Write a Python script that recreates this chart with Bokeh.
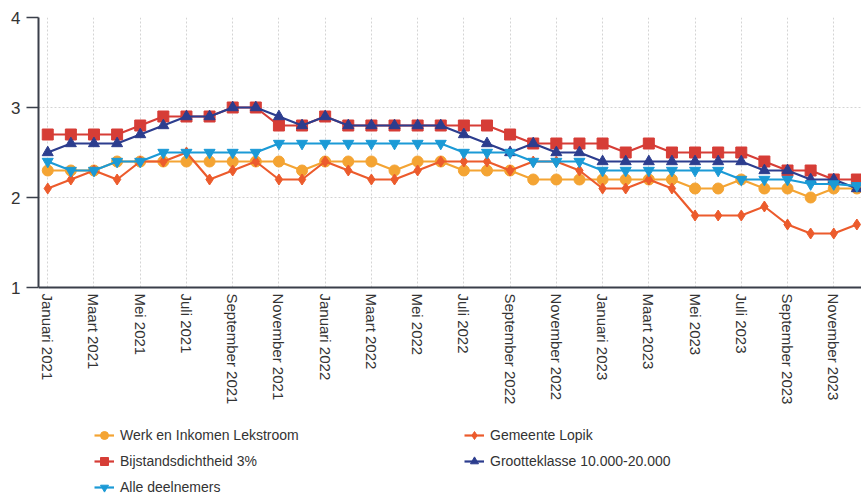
import math
from bokeh.plotting import figure
from bokeh.models import Range1d, FixedTicker, Legend, LegendItem, BoxAnnotation
from bokeh.embed import file_html
from bokeh.resources import INLINE

# ---- data -------------------------------------------------------------
tick_labels = ["Januari 2021", "Maart 2021", "Mei 2021", "Juli 2021", "September 2021",
               "November 2021", "Januari 2022", "Maart 2022", "Mei 2022", "Juli 2022",
               "September 2022", "November 2022", "Januari 2023", "Maart 2023", "Mei 2023",
               "Juli 2023", "September 2023", "November 2023"]

werk = [2.3, 2.3, 2.3, 2.4, 2.4, 2.4, 2.4, 2.4, 2.4, 2.4, 2.4, 2.3,
        2.4, 2.4, 2.4, 2.3, 2.4, 2.4, 2.3, 2.3, 2.3, 2.2, 2.2, 2.2,
        2.2, 2.2, 2.2, 2.2, 2.1, 2.1, 2.2, 2.1, 2.1, 2.0, 2.1, 2.1]
lopik = [2.1, 2.2, 2.3, 2.2, 2.4, 2.4, 2.5, 2.2, 2.3, 2.4, 2.2, 2.2,
         2.4, 2.3, 2.2, 2.2, 2.3, 2.4, 2.4, 2.4, 2.3, 2.4, 2.4, 2.3,
         2.1, 2.1, 2.2, 2.1, 1.8, 1.8, 1.8, 1.9, 1.7, 1.6, 1.6, 1.7]
bijstand = [2.7, 2.7, 2.7, 2.7, 2.8, 2.9, 2.9, 2.9, 3.0, 3.0, 2.8, 2.8,
            2.9, 2.8, 2.8, 2.8, 2.8, 2.8, 2.8, 2.8, 2.7, 2.6, 2.6, 2.6,
            2.6, 2.5, 2.6, 2.5, 2.5, 2.5, 2.5, 2.4, 2.3, 2.3, 2.2, 2.2]
grootte = [2.5, 2.6, 2.6, 2.6, 2.7, 2.8, 2.9, 2.9, 3.0, 3.0, 2.9, 2.8,
           2.9, 2.8, 2.8, 2.8, 2.8, 2.8, 2.7, 2.6, 2.5, 2.6, 2.5, 2.5,
           2.4, 2.4, 2.4, 2.4, 2.4, 2.4, 2.4, 2.3, 2.3, 2.2, 2.2, 2.1]
alle = [2.4, 2.3, 2.3, 2.4, 2.4, 2.5, 2.5, 2.5, 2.5, 2.5, 2.6, 2.6,
        2.6, 2.6, 2.6, 2.6, 2.6, 2.6, 2.5, 2.5, 2.5, 2.4, 2.4, 2.4,
        2.3, 2.3, 2.3, 2.3, 2.3, 2.3, 2.2, 2.2, 2.2, 2.15, 2.15, 2.13]

series_names = ["Werk en Inkomen Lekstroom", "Gemeente Lopik", "Bijstandsdichtheid 3%",
                "Grootteklasse 10.000-20.000", "Alle deelnemers"]
series_values = [werk, lopik, bijstand, grootte, alle]
series_colors = ["#f4a433", "#ec5b2c", "#d63d36", "#2c3d8e", "#1b9ad6"]
series_markers = ["circle", "diamond", "square", "triangle", "inverted_triangle"]
series_sizes = [11, 11, 11, 11, 11]

y_min, y_max = 1, 4
y_ticks = [1, 2, 3, 4]

months = list(range(len(werk)))
tick_pos = months[::2]

FONT = "Liberation Sans"

# ---- figure -------------------------------------------------------------
# The frame covers the whole area below the chart too (room for the
# month labels and the legend); the x axis is pinned at y = 1.
FRAME_H = 478
PX_PER_UNIT = 90
y_bottom = y_max - FRAME_H / PX_PER_UNIT

p = figure(width=861, height=495,
           x_range=Range1d(-0.4, 35.2), y_range=Range1d(y_bottom, y_max),
           output_backend="svg", toolbar_location=None,
           min_border_left=38, min_border_right=0, min_border_top=17,
           min_border_bottom=0)
p.outline_line_color = None
p.background_fill_color = "white"
p.border_fill_color = "white"

# axes
p.xaxis.fixed_location = y_min
p.xaxis.ticker = FixedTicker(ticks=tick_pos)
p.xaxis.major_label_overrides = {t: lab for t, lab in zip(tick_pos, tick_labels)}
p.xaxis.major_label_orientation = -math.pi / 2
p.xaxis.major_tick_out = 0
p.xaxis.major_tick_in = 0
p.xaxis.minor_tick_line_color = None
p.xaxis.major_label_standoff = 6
p.xaxis.axis_line_color = "#3a3f4a"
p.xaxis.axis_line_width = 2
p.xaxis.major_label_text_font = FONT
p.xaxis.major_label_text_font_size = "15px"
p.xaxis.major_label_text_color = "#333333"

p.yaxis.bounds = (y_min, y_max)
p.yaxis.ticker = FixedTicker(ticks=y_ticks)
p.yaxis.minor_tick_line_color = None
p.yaxis.major_tick_out = 12
p.yaxis.major_tick_in = 0
p.yaxis.major_tick_line_color = "#3a3f4a"
p.yaxis.major_tick_line_width = 1.5
p.yaxis.major_label_standoff = 6
p.yaxis.axis_line_color = "#3a3f4a"
p.yaxis.axis_line_width = 2
p.yaxis.major_label_text_font = FONT
p.yaxis.major_label_text_font_size = "17px"
p.yaxis.major_label_text_color = "#333333"

# grids
p.xgrid.ticker = FixedTicker(ticks=tick_pos)
p.xgrid.grid_line_color = "#d4d4d4"
p.xgrid.grid_line_dash = "2 2"
p.ygrid.ticker = FixedTicker(ticks=y_ticks[1:])
p.ygrid.grid_line_color = "#d4d4d4"
p.ygrid.grid_line_dash = "2 2"

# white cover under the x axis, so the vertical grid stops at y = 1
cover = BoxAnnotation(top=y_min, fill_color="white", fill_alpha=1.0,
                      line_color=None, level="underlay")
p.add_layout(cover)

# series
items = []
for name, vals, col, mk, sz in zip(series_names, series_values, series_colors,
                                   series_markers, series_sizes):
    ln = p.line(months, vals, line_color=col, line_width=2.2)
    sc = p.scatter(months, vals, marker=mk, size=sz, fill_color=col, line_color=col)
    items.append(LegendItem(label=name, renderers=[ln, sc]))

legend = Legend(items=items, orientation="horizontal", ncols=2,
                location=(56, -2),
                label_text_font=FONT, label_text_font_size="14px",
                label_text_color="#333333",
                glyph_width=20, glyph_height=20, label_height=20,
                label_standoff=6, label_width=338, spacing=6,
                padding=0, margin=0,
                border_line_color=None, background_fill_alpha=0)
p.add_layout(legend, "center")

open("out.html", "w").write(file_html(p, INLINE))
